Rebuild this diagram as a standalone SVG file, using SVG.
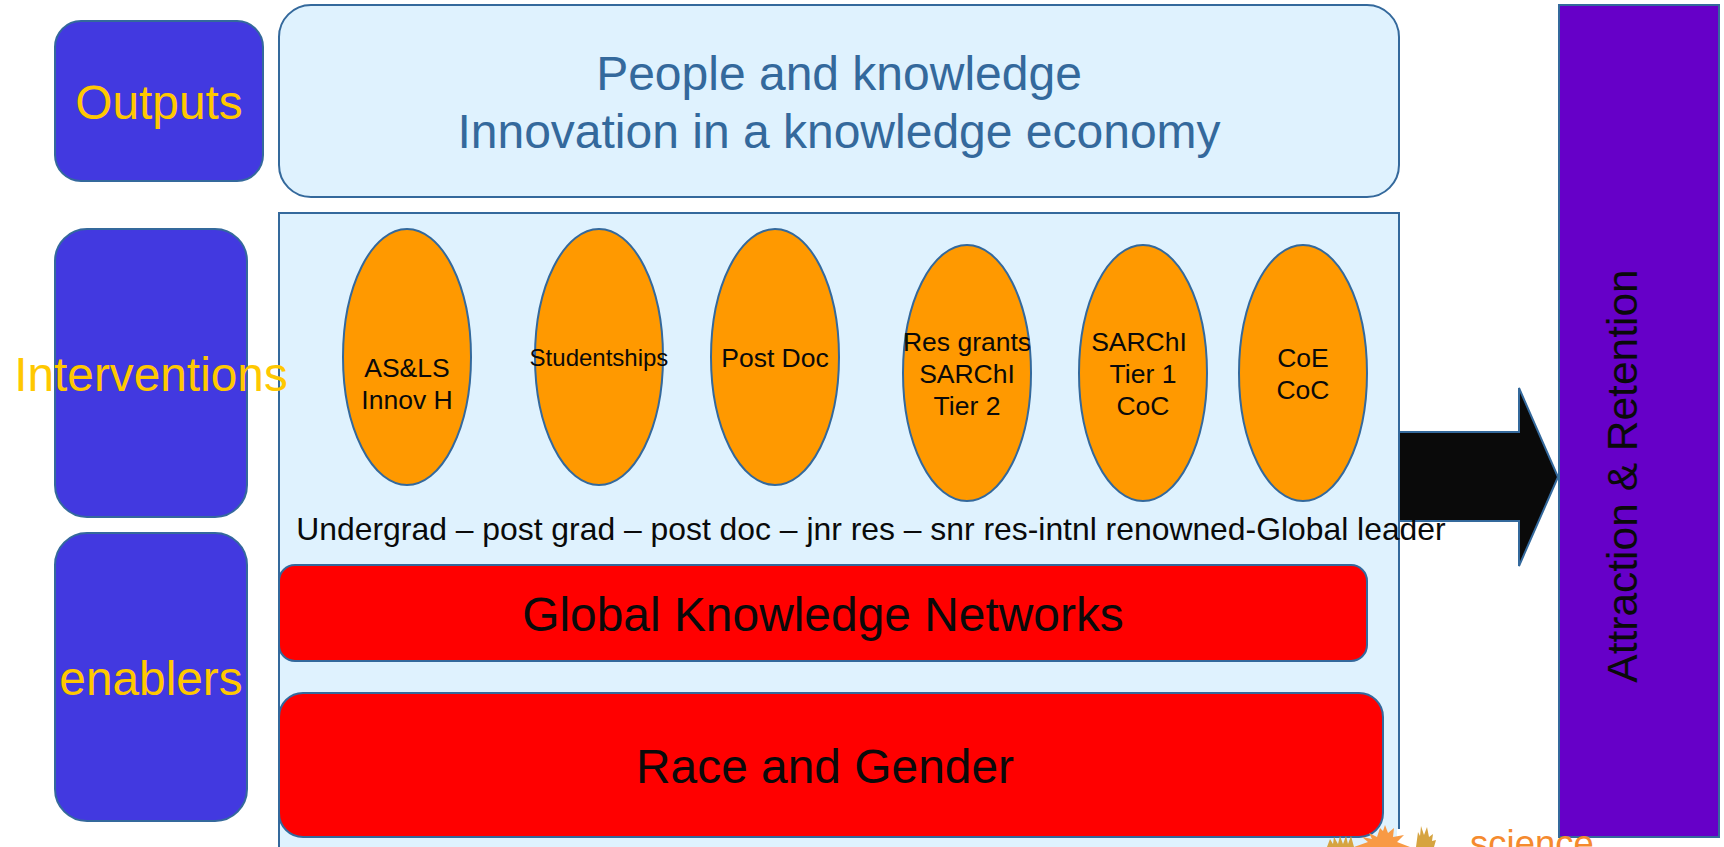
<svg xmlns="http://www.w3.org/2000/svg" width="1724" height="847" viewBox="0 0 1724 847">
<style>
.s{stroke:#34699c;stroke-width:2}
.b{fill:#4239e0}
.o{fill:#ff9900}
.r{fill:#ff0000}
.l{fill:#dff2fe}
text{font-family:"Liberation Sans",Arial,sans-serif;text-anchor:middle}
.y{fill:#ffc800;font-size:47.8px}
.k{fill:#0a0a0a;font-size:26.5px}
.h{fill:#34699c;font-size:48px}
.big{font-size:47.9px}
</style>
<rect width="1724" height="847" fill="#fff"/>
<g id="outputs"><rect class="s b" x="55" y="21" width="208" height="160" rx="26"/><text class="y" x="159" y="119">Outputs</text></g>
<g id="people"><rect class="s l" x="279" y="5" width="1120" height="192" rx="32"/><text class="h" x="839" y="90">People and knowledge</text><text class="h" x="839" y="148">Innovation in a knowledge economy</text></g>
<g id="panel"><rect class="s l" x="279" y="213" width="1120" height="660"/></g>
<g id="interventions"><rect class="s b" x="55" y="229" width="192" height="288" rx="32"/><text class="y" x="151" y="391">Interventions</text></g>
<g id="enablers"><rect class="s b" x="55" y="533" width="192" height="288" rx="32"/><text class="y" x="151" y="695">enablers</text></g>
<g id="asls"><ellipse class="s o" cx="407" cy="357" rx="64" ry="128"/><text class="k" x="407" y="377">AS&amp;LS</text><text class="k" x="407" y="409">Innov H</text></g>
<g id="studentships"><ellipse class="s o" cx="599" cy="357" rx="64" ry="128"/><text class="k" x="599" y="366" style="font-size:24px">Studentships</text></g>
<g id="postdoc"><ellipse class="s o" cx="775" cy="357" rx="64" ry="128"/><text class="k" x="775" y="367">Post Doc</text></g>
<g id="resgrants"><ellipse class="s o" cx="967" cy="373" rx="64" ry="128"/><text class="k" x="967" y="351">Res grants</text><text class="k" x="967" y="383">SARChI</text><text class="k" x="967" y="415">Tier 2</text></g>
<g id="sarchi"><ellipse class="s o" cx="1143" cy="373" rx="64" ry="128"/><text class="k" x="1139" y="351">SARChI</text><text class="k" x="1143" y="383">Tier 1</text><text class="k" x="1143" y="415">CoC</text></g>
<g id="coe"><ellipse class="s o" cx="1303" cy="373" rx="64" ry="128"/><text class="k" x="1303" y="367">CoE</text><text class="k" x="1303" y="399">CoC</text></g>
<g id="gkn"><rect class="s r" x="279" y="565" width="1088" height="96" rx="16"/><text class="k big" x="823" y="631">Global Knowledge Networks</text></g>
<g id="race"><rect class="s r" x="279" y="693" width="1104" height="144" rx="24"/><text class="k big" x="825" y="783">Race and Gender</text></g>
<g id="connectors"><path class="s" d="M1399 432H1519V388L1558 477 1519 566V521H1399Z" fill="#0a0a0a"/></g>
<text class="k" x="871" y="540" style="font-size:31.87px">Undergrad – post grad – post doc – jnr res – snr res-intnl renowned-Global leader</text>
<g id="attraction"><rect class="s" x="1559" y="5" width="160" height="832" fill="#6600c8"/><text class="k" transform="translate(1637 476) rotate(-90)" style="font-size:42.5px">Attraction &amp; Retention</text></g>
<g id="science-logo">
<rect x="1397" y="829" width="6" height="18" fill="#fff"/>
<path d="M1327 847l3-8 3 5 1-7 4 7 2-8 3 8 3-8 2 8 3-8 3 11z" fill="#d6a440"/>
<path d="M1416 847l2-15 2 4 1-10 3 9 3-8 2 10 4-3-1 7 4-1-2 7z" fill="#d6a440"/>
<path d="M1354 847l14-5-6-5 10 2-3-6 8 4 3-9 3 3 2-6 3 8 6-5-1 9 11-2-7 7 13 5z" fill="#f89a45"/>
<text x="1532" y="856" style="font-size:36.5px;fill:#f58a2e">science</text>
</g>
</svg>
